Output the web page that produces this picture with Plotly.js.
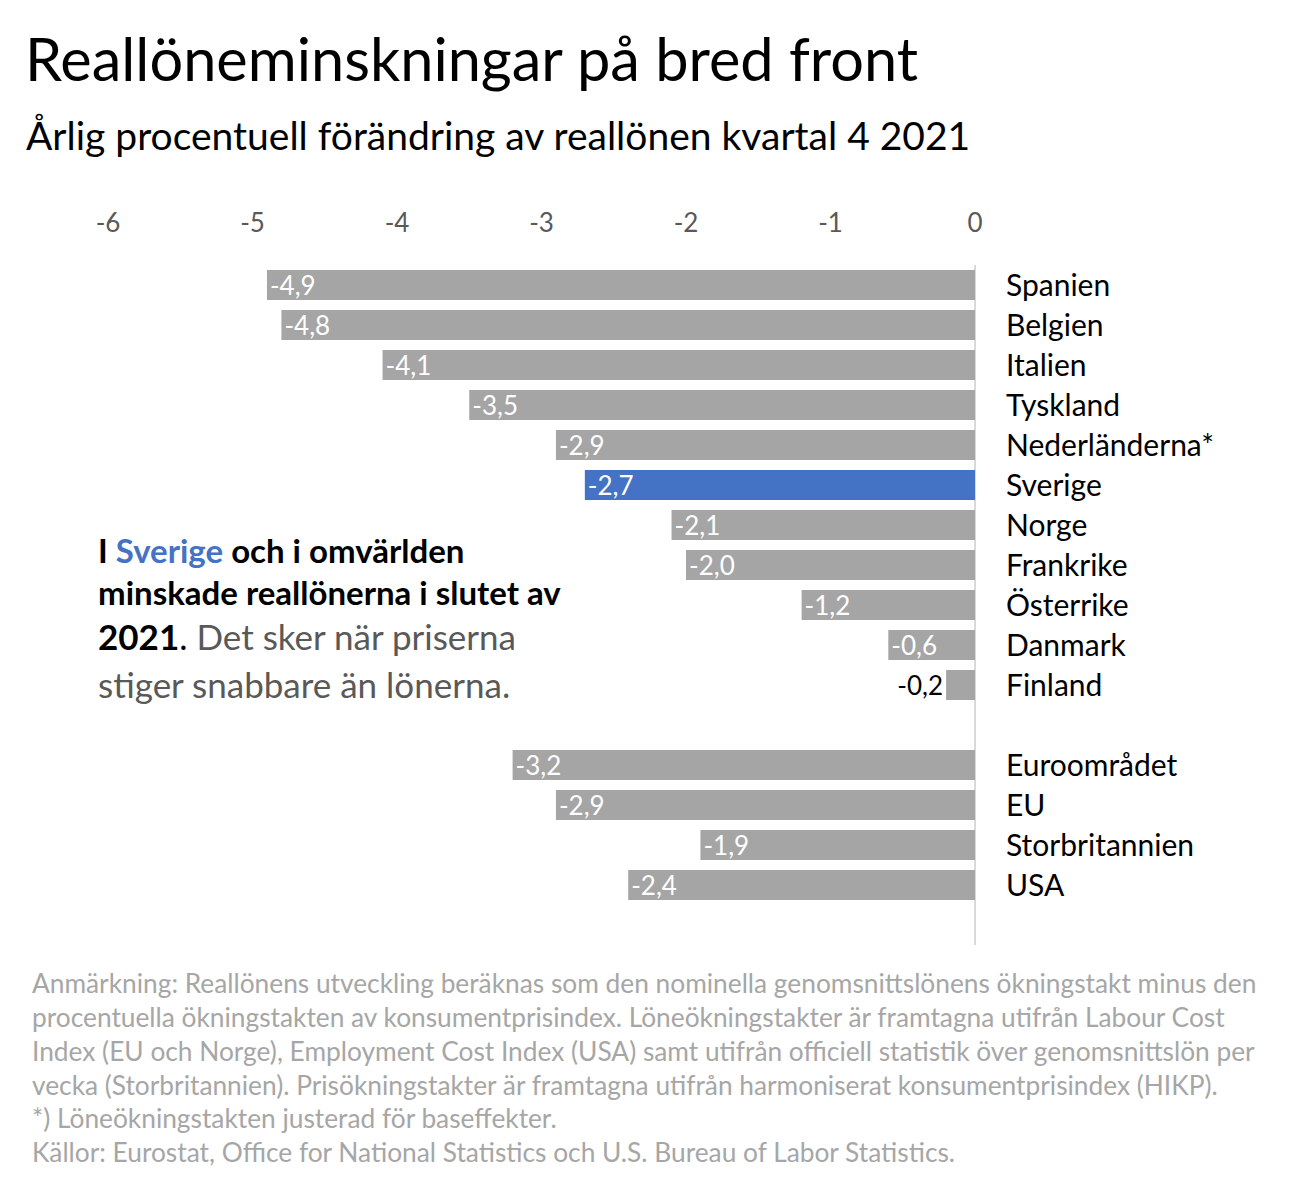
<!DOCTYPE html>
<html>
<head>
<meta charset="utf-8">
<script src="https://cdn.plot.ly/plotly-3.0.1.min.js"></script>
<style>html,body{margin:0;padding:0;background:#fff;}</style>
</head>
<body>
<div id="chart" style="width:1296px;height:1196px;"></div>
<script>
// ---- Data ----
var countries = ["Spanien","Belgien","Italien","Tyskland","Nederländerna*","Sverige","Norge","Frankrike","Österrike","Danmark","Finland","Euroområdet","EU","Storbritannien","USA"];
var values = [-4.9,-4.8,-4.1,-3.5,-2.9,-2.7,-2.1,-2.0,-1.2,-0.6,-0.2,-3.2,-2.9,-1.9,-2.4];
var highlight = "Sverige";
var xTickVals = [-6,-5,-4,-3,-2,-1,0];
var xTickText = ["-6","-5","-4","-3","-2","-1","0"];
var titleText = "Reallöneminskningar på bred front";
var subtitleText = "Årlig procentuell förändring av reallönen kvartal 4 2021";
var calloutLines = [
  "<b>I <span style='color:#4472c4'>Sverige</span> och i omvärlden</b>",
  "<b>minskade reallönerna i slutet av</b>",
  "<b>2021</b>. <span style='color:#595959'>Det sker när priserna</span>",
  "<span style='color:#595959'>stiger snabbare än lönerna.</span>"
];
var noteLines = [
  "Anmärkning: Reallönens utveckling beräknas som den nominella genomsnittslönens ökningstakt minus den",
  "procentuella ökningstakten av konsumentprisindex. Löneökningstakter är framtagna utifrån Labour Cost",
  "Index (EU och Norge), Employment Cost Index (USA) samt utifrån officiell statistik över genomsnittslön per",
  "vecka (Storbritannien). Prisökningstakter är framtagna utifrån harmoniserat konsumentprisindex (HIKP).",
  "*) Löneökningstakten justerad för baseffekter.",
  "Källor: Eurostat, Office for National Statistics och U.S. Bureau of Labor Statistics."
];
var groupBreakAfter = "Finland"; // an empty row separates the country group from the aggregates

// ---- Derived ----
var breakIdx = countries.indexOf(groupBreakAfter);
var ypos = countries.map(function(c,i){ return i > breakIdx ? i + 1 : i; });
var colors = countries.map(function(c){ return c === highlight ? "#4472c4" : "#a5a5a5"; });
var labels = values.map(function(v){ return v.toFixed(1).replace(".", ","); });
var textpos = values.map(function(v){ return Math.abs(v) < 0.4 ? "outside" : "inside"; });
var textcol = values.map(function(v){ return Math.abs(v) < 0.4 ? "#000000" : "#ffffff"; });

var FONT = "Lato, 'Open Sans', sans-serif";
var W = 1296, H = 1196;
var L = 108, R = 975, T = 265, B = 945;
function px(x){ return (x - L) / (R - L); }
function py(y){ return 1 - (y - T) / (B - T); }

var trace = {
  type: "bar",
  orientation: "h",
  x: values,
  y: ypos,
  marker: {color: colors, line: {width: 0}},
  text: labels,
  textposition: textpos,
  insidetextanchor: "end",
  constraintext: "none",
  textfont: {family: FONT, size: 26, color: textcol},
  cliponaxis: false,
  hoverinfo: "skip"
};

var annotations = [];
var calloutY = [550, 592, 636, 684];
var calloutSize = [33, 33, 35, 35];
calloutLines.forEach(function(t, i){
  annotations.push({
    xref: "paper", yref: "paper", x: px(96), y: py(calloutY[i]),
    xanchor: "left", yanchor: "middle", showarrow: false, align: "left",
    text: t, font: {family: FONT, size: calloutSize[i], color: "#000000"}
  });
});
var noteY = [983, 1017, 1051, 1085, 1118, 1152];
noteLines.forEach(function(t, i){
  annotations.push({
    xref: "paper", yref: "paper", x: px(30), y: py(noteY[i]),
    xanchor: "left", yanchor: "middle", showarrow: false, align: "left",
    text: t, font: {family: FONT, size: 26.3, color: "#a6a6a6"}
  });
});
annotations.push({
  xref: "paper", yref: "paper", x: px(24), y: py(135),
  xanchor: "left", yanchor: "middle", showarrow: false, align: "left",
  text: subtitleText, font: {family: FONT, size: 39, color: "#000000"}
});

var layout = {
  width: W, height: H,
  margin: {l: L, r: W - R, t: T, b: H - B, pad: 0},
  paper_bgcolor: "#ffffff", plot_bgcolor: "#ffffff",
  showlegend: false,
  separators: ", ",
  bargap: 0.25,
  title: {
    text: titleText, xref: "container", yref: "container",
    x: 25 / W, xanchor: "left", y: 1 - 60 / H, yanchor: "middle",
    font: {family: FONT, size: 59.5, color: "#000000"}
  },
  xaxis: {
    side: "top", range: [-6, 0], tickvals: xTickVals, ticktext: xTickText,
    showgrid: false, zeroline: true, zerolinecolor: "#d9d9d9", zerolinewidth: 2,
    showline: false, ticks: "", ticklabelstandoff: 27,
    tickfont: {family: FONT, size: 26, color: "#595959"}, fixedrange: true
  },
  yaxis: {
    side: "right", range: [16.5, -0.5], tickvals: ypos, ticktext: countries,
    showgrid: false, zeroline: false, showline: false, ticks: "",
    ticklabelstandoff: 30,
    tickfont: {family: FONT, size: 30, color: "#000000"}, fixedrange: true
  },
  annotations: annotations
};

Plotly.newPlot("chart", [trace], layout, {displayModeBar: false, staticPlot: true});
</script>
</body>
</html>
